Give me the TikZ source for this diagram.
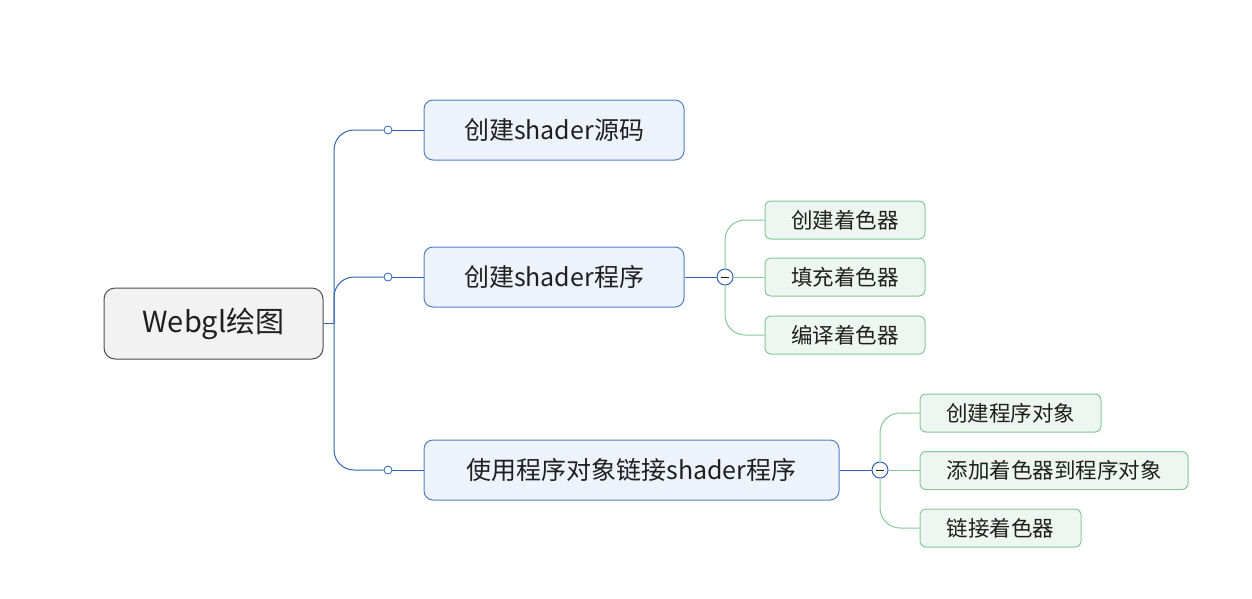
\documentclass[tikz,border=0pt]{standalone}
\usepackage{fontspec}
\setmainfont{Noto Sans CJK SC}
\usepackage{tikz}

\definecolor{rootfill}{HTML}{F2F2F2}
\definecolor{rootline}{HTML}{4D4D4D}
\definecolor{topfill}{HTML}{EEF3FB}
\definecolor{topline}{HTML}{4F7FC0}
\definecolor{linkblue}{HTML}{2F64B5}
\definecolor{leaffill}{HTML}{EDF6F0}
\definecolor{leafline}{HTML}{86C79A}
\definecolor{inkdark}{HTML}{1F1F1F}

\tikzset{
    rootbox/.style={draw=rootline, fill=rootfill, rounded corners=11pt, line width=1pt,
        text=inkdark, font=\fontsize{29}{33}\selectfont, inner sep=0pt,
        minimum width=219pt, minimum height=71pt},
    topicbox/.style={draw=topline, fill=topfill, rounded corners=9pt, line width=1pt,
        text=inkdark, font=\fontsize{25}{29}\selectfont, inner sep=0pt,
        minimum height=60pt},
    leafbox/.style={draw=leafline, fill=leaffill, rounded corners=6pt, line width=1pt,
        text=inkdark, font=\fontsize{21.5}{25}\selectfont, inner sep=0pt,
        minimum height=38pt},
    knob/.style={circle, draw=linkblue, fill=white, line width=0.8pt, inner sep=0pt, minimum size=8pt},
    fold/.style={circle, draw=linkblue, fill=white, line width=1pt, inner sep=0pt, minimum size=16pt,
        path picture={\draw[inkdark, line width=1pt] ([xshift=-4pt]path picture bounding box.center) -- ([xshift=4pt]path picture bounding box.center);}},
    bluelink/.style={draw=linkblue, line width=1pt},
    greenlink/.style={draw=leafline, line width=1pt}
}

\begin{document}
\begin{tikzpicture}[x=1pt, y=-1pt]
        \useasboundingbox (0,0) rectangle (1252,598);

        % main idea
        \node[rootbox] (root) at (213.5,323.5) {Webgl绘图};

        % first level
        \node[topicbox, minimum width=260pt] (src) at (554,130) {创建shader源码};
        \node[topicbox, minimum width=260pt] (prog) at (554,277) {创建shader程序};
        \node[topicbox, minimum width=415pt] (link) at (631.5,470) {使用程序对象链接shader程序};

        \coordinate (trunk) at (334,323.5);
        \node[knob] (k1) at (388,130) {};
        \node[knob] (k2) at (388,277) {};
        \node[knob] (k3) at (388,470) {};

        \draw[bluelink] (root.east) -- (trunk);
        \draw[bluelink, rounded corners=20pt] (trunk) |- (k1);
        \draw[bluelink, rounded corners=20pt] (trunk) |- (k2);
        \draw[bluelink, rounded corners=20pt] (trunk) |- (k3);
        \draw[bluelink] (k1) -- (src);
        \draw[bluelink] (k2) -- (prog);
        \draw[bluelink] (k3) -- (link);

        % shader steps
        \node[fold] (f2) at (725,277) {};
        \node[leafbox, minimum width=160pt] (s1) at (845,220) {创建着色器};
        \node[leafbox, minimum width=160pt] (s2) at (845,277) {填充着色器};
        \node[leafbox, minimum width=160pt] (s3) at (845,335) {编译着色器};

        \draw[bluelink] (prog) -- (f2);
        \draw[greenlink, rounded corners=20pt] (f2) |- (s1.west);
        \draw[greenlink] (f2) -- (s2);
        \draw[greenlink, rounded corners=20pt] (f2) |- (s3.west);

        % program steps
        \node[fold] (f3) at (880,470) {};
        \node[leafbox, minimum width=181pt] (p1) at (1010.5,413) {创建程序对象};
        \node[leafbox, minimum width=268pt] (p2) at (1054,470.5) {添加着色器到程序对象};
        \node[leafbox, minimum width=161pt] (p3) at (1000.5,528) {链接着色器};

        \draw[bluelink] (link) -- (f3);
        \draw[greenlink, rounded corners=20pt] (f3) |- (p1.west);
        \draw[greenlink] (f3) -- (p2.west |- f3);
        \draw[greenlink, rounded corners=20pt] (f3) |- (p3.west);
    \end{tikzpicture}
\end{document}
